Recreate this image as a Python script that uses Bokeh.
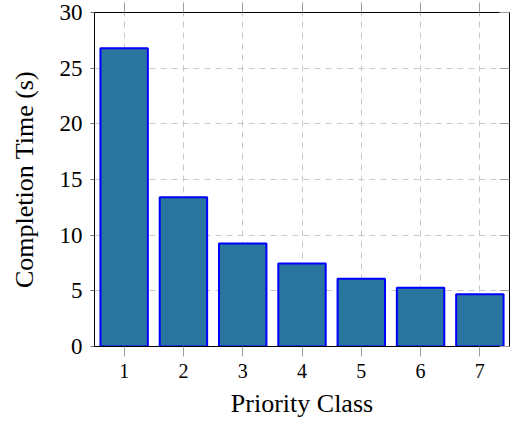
from bokeh.plotting import figure
from bokeh.models import Range1d, FixedTicker, LinearAxis, CustomJSTickFormatter
from bokeh.embed import file_html
from bokeh.resources import INLINE

classes = [1, 2, 3, 4, 5, 6, 7]
times = [26.8, 13.4, 9.25, 7.45, 6.08, 5.27, 4.7]
y_ticks = [0, 5, 10, 15, 20, 25, 30]

FONT = "Liberation Serif"

p = figure(width=511, height=425, output_backend="svg", toolbar_location=None,
           x_range=Range1d(0.5, 7.5), y_range=Range1d(0, 30),
           min_border_left=94, min_border_top=12, min_border_right=2, min_border_bottom=79)

p.vbar(x=classes, top=times, width=0.8, bottom=0,
       fill_color="#2a75a0", line_color="#0000ff", line_width=2)

p.outline_line_color = "#000000"
p.outline_line_width = 1

p.xaxis.ticker = FixedTicker(ticks=classes)
p.yaxis.ticker = FixedTicker(ticks=y_ticks)

for g in (p.xgrid, p.ygrid):
    g.grid_line_color = "#c8c8c8"
    g.grid_line_dash = "6 5"
    g.grid_line_width = 1

p.xaxis.axis_label = "Priority Class"
p.yaxis.axis_label = "Completion Time (s)"
for ax in (p.xaxis, p.yaxis):
    ax.axis_label_text_font = FONT
    ax.axis_label_text_font_style = "normal"
    ax.axis_label_text_font_size = "26px"
    ax.axis_label_text_color = "#000000"
    ax.major_label_text_font = FONT
    ax.major_label_text_color = "#000000"
    ax.minor_tick_line_color = None
    ax.axis_line_color = "#000000"

p.xaxis.major_label_text_font_size = "20px"
p.xaxis.major_tick_out = 10
p.xaxis.major_tick_in = 0
p.xaxis.major_tick_line_color = "#a0a0a0"
p.xaxis.major_label_standoff = 7
p.xaxis.axis_label_standoff = 8

p.yaxis.major_label_text_font_size = "23px"
p.yaxis.major_tick_out = 4
p.yaxis.major_tick_in = 0
p.yaxis.major_tick_line_color = "#707070"
p.yaxis.major_label_standoff = 8
p.yaxis.axis_label_standoff = 18

empty = CustomJSTickFormatter(code="return ''")
right = LinearAxis(ticker=FixedTicker(ticks=y_ticks), formatter=empty,
                   major_tick_in=10, major_tick_out=0, major_tick_line_color="#a0a0a0",
                   minor_tick_line_color=None, axis_line_color="#000000",
                   major_label_standoff=0, major_label_text_font_size="0px")
p.add_layout(right, "right")
top = LinearAxis(ticker=FixedTicker(ticks=classes), formatter=empty,
                 major_tick_in=0, major_tick_out=10, major_tick_line_color="#a0a0a0",
                 minor_tick_line_color=None, axis_line_color="#000000",
                 major_label_standoff=0, major_label_text_font_size="0px")
p.add_layout(top, "above")

open("out.html", "w").write(file_html(p, INLINE))
